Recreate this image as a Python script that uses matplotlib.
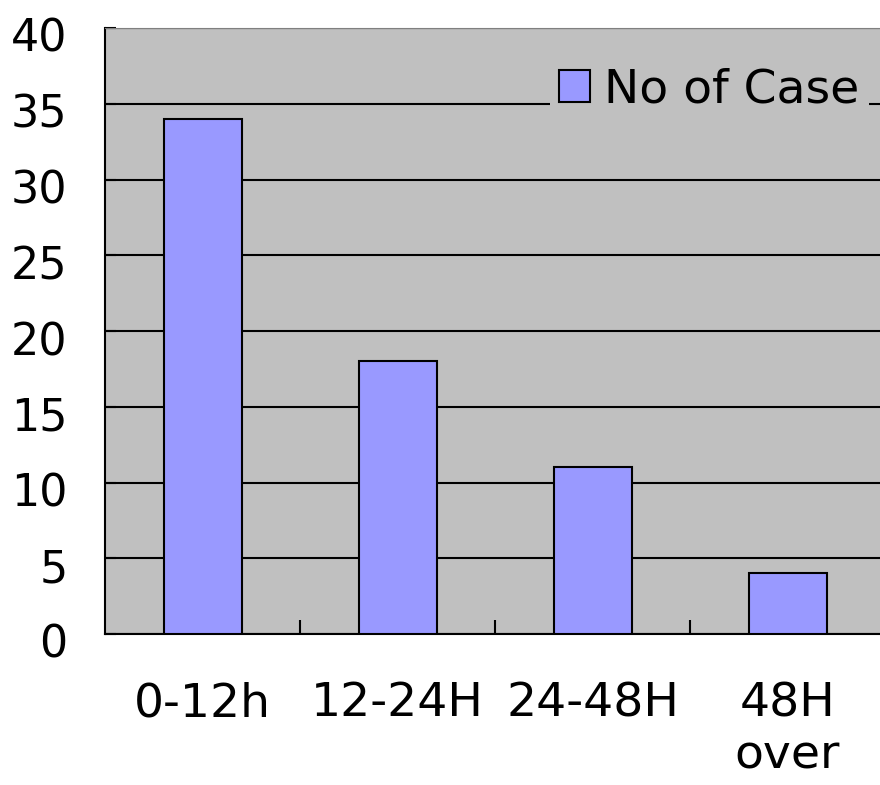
import matplotlib
matplotlib.use("Agg")
import matplotlib.pyplot as plt
from matplotlib.transforms import ScaledTranslation

plt.rcParams["font.family"] = ["DejaVu Sans", "Noto Sans CJK JP"]

categories = ["0-12h", "12-24H", "24-48H", "48H\nover"]
cases = [34, 18, 11, 4]
y_ticks = [0, 5, 10, 15, 20, 25, 30, 35, 40]

fig = plt.figure(figsize=(8.8, 7.85), dpi=100)
ax = fig.add_axes([105 / 880, 1 - 634 / 785, 780 / 880, 606 / 785])
ax.set_facecolor("#c0c0c0")

x = range(len(categories))
ax.bar(x, cases, width=0.4, color="#9999ff", edgecolor="black",
       linewidth=1.5, label="No of Case", zorder=3)

ax.set_xlim(-0.5, len(categories) - 0.5)
ax.set_ylim(0, 40)
ax.set_yticks(y_ticks)
ax.yaxis.grid(True, color="black", linewidth=1.5, zorder=1)
ax.set_axisbelow(True)

ax.set_xticks(list(x))
ax.set_xticklabels(categories, fontsize=34, linespacing=1.2)
ax.set_xticks([0.5, 1.5, 2.5], minor=True)
ax.tick_params(axis="x", which="major", length=0, pad=34)
ax.tick_params(axis="x", which="minor", direction="in", length=10, width=1.5)
ax.tick_params(axis="y", direction="in", length=8, width=1.5, labelsize=32, pad=27)

# labels sit a little below their grid lines in the original
shift = ScaledTranslation(0, -0.07, fig.dpi_scale_trans)
for tick in ax.yaxis.get_major_ticks():
    tick.label1.set_transform(tick.label1.get_transform() + shift)

for side in ["left", "bottom"]:
    ax.spines[side].set_linewidth(1.5)
    ax.spines[side].set_color("black")
ax.spines["top"].set_color("#808080")
ax.spines["right"].set_visible(False)

leg = ax.legend(loc="upper right", bbox_to_anchor=(764 / 780, 1 - 30 / 606),
                fontsize=34, frameon=True, fancybox=False, handlelength=0.66,
                handleheight=0.66, handletextpad=0.3, borderpad=0.2,
                borderaxespad=0)
leg.get_frame().set_facecolor("#c0c0c0")
leg.get_frame().set_edgecolor("none")
leg.get_frame().set_alpha(1)

fig.savefig("out.png", dpi=100)
